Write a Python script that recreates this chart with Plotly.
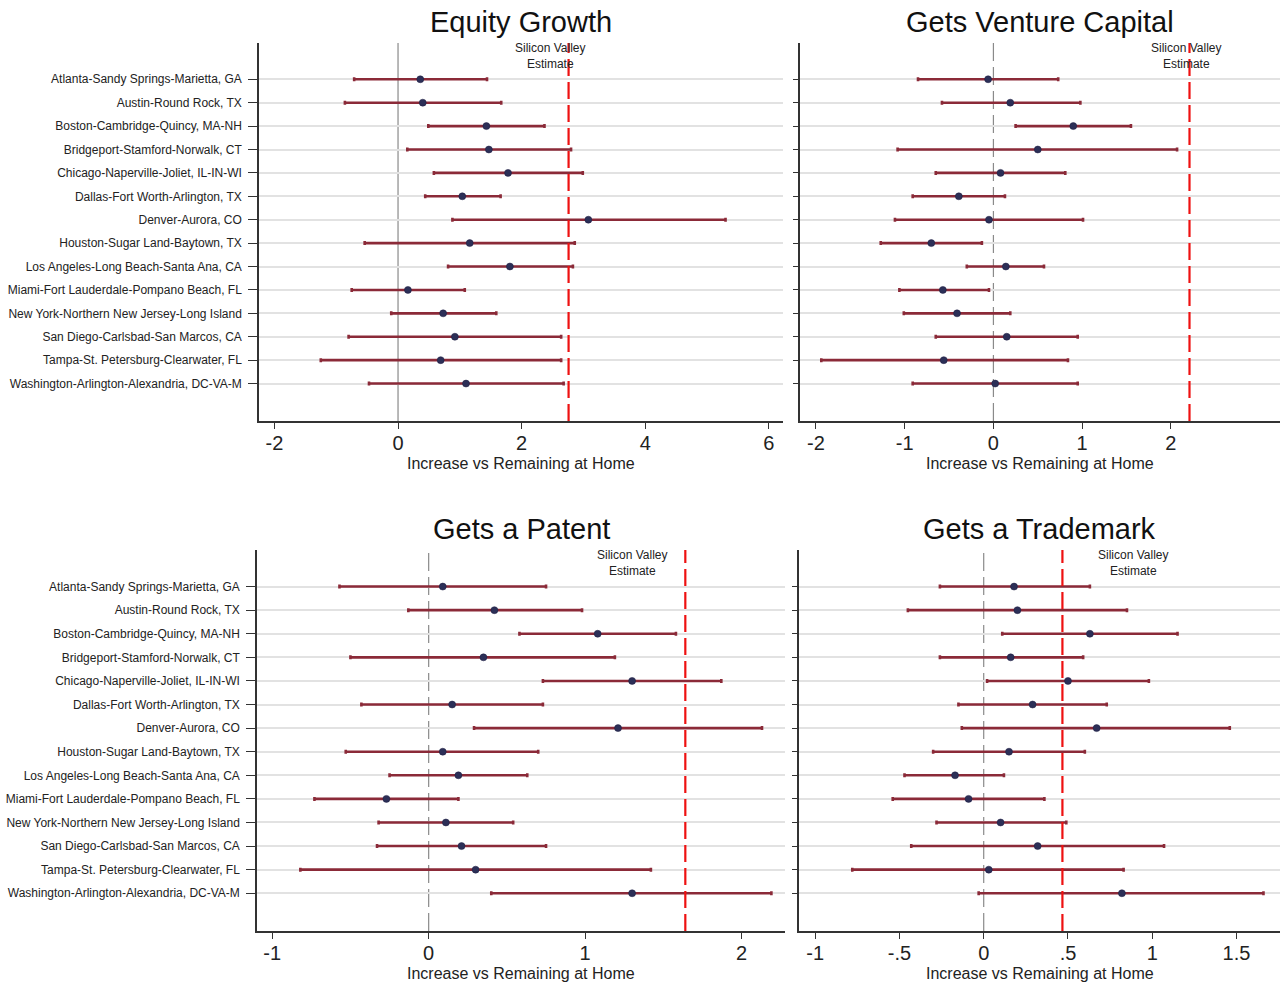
import plotly.graph_objects as go

cities = [
    "Atlanta-Sandy Springs-Marietta, GA",
    "Austin-Round Rock, TX",
    "Boston-Cambridge-Quincy, MA-NH",
    "Bridgeport-Stamford-Norwalk, CT",
    "Chicago-Naperville-Joliet, IL-IN-WI",
    "Dallas-Fort Worth-Arlington, TX",
    "Denver-Aurora, CO",
    "Houston-Sugar Land-Baytown, TX",
    "Los Angeles-Long Beach-Santa Ana, CA",
    "Miami-Fort Lauderdale-Pompano Beach, FL",
    "New York-Northern New Jersey-Long Island",
    "San Diego-Carlsbad-San Marcos, CA",
    "Tampa-St. Petersburg-Clearwater, FL",
    "Washington-Arlington-Alexandria, DC-VA-M",
]

titles = ["Equity Growth", "Gets Venture Capital", "Gets a Patent", "Gets a Trademark"]

# Equity Growth
eq_pt = [0.36, 0.40, 1.43, 1.47, 1.78, 1.04, 3.08, 1.16, 1.81, 0.16, 0.73, 0.92, 0.69, 1.10]
eq_lo = [-0.71, -0.86, 0.49, 0.15, 0.58, 0.44, 0.88, -0.54, 0.81, -0.75, -0.11, -0.80, -1.25, -0.47]
eq_hi = [1.44, 1.67, 2.37, 2.80, 2.99, 1.66, 5.30, 2.86, 2.83, 1.08, 1.59, 2.64, 2.64, 2.68]

# Gets Venture Capital
vc_pt = [-0.06, 0.19, 0.90, 0.50, 0.08, -0.39, -0.05, -0.70, 0.14, -0.57, -0.41, 0.15, -0.56, 0.02]
vc_lo = [-0.85, -0.58, 0.25, -1.08, -0.65, -0.91, -1.11, -1.27, -0.30, -1.06, -1.01, -0.65, -1.94, -0.91]
vc_hi = [0.73, 0.98, 1.55, 2.07, 0.81, 0.13, 1.01, -0.13, 0.57, -0.05, 0.19, 0.95, 0.84, 0.95]

# Gets a Patent
pa_pt = [0.09, 0.42, 1.08, 0.35, 1.30, 0.15, 1.21, 0.09, 0.19, -0.27, 0.11, 0.21, 0.30, 1.30]
pa_lo = [-0.57, -0.13, 0.58, -0.50, 0.73, -0.43, 0.29, -0.53, -0.25, -0.73, -0.32, -0.33, -0.82, 0.40]
pa_hi = [0.75, 0.98, 1.58, 1.19, 1.87, 0.73, 2.13, 0.70, 0.63, 0.19, 0.54, 0.75, 1.42, 2.19]

# Gets a Trademark
tm_pt = [0.18, 0.20, 0.63, 0.16, 0.50, 0.29, 0.67, 0.15, -0.17, -0.09, 0.10, 0.32, 0.03, 0.82]
tm_lo = [-0.26, -0.45, 0.11, -0.26, 0.02, -0.15, -0.13, -0.30, -0.47, -0.54, -0.28, -0.43, -0.78, -0.03]
tm_hi = [0.63, 0.85, 1.15, 0.59, 0.98, 0.73, 1.46, 0.60, 0.12, 0.36, 0.49, 1.07, 0.83, 1.66]

sv_estimates = [2.76, 2.21, 1.64, 0.467]

x_tickvals = [[-2, 0, 2, 4, 6], [-2, -1, 0, 1, 2], [-1, 0, 1, 2], [-1, -0.5, 0, 0.5, 1, 1.5]]
x_ticktext = [["-2", "0", "2", "4", "6"], ["-2", "-1", "0", "1", "2"], ["-1", "0", "1", "2"],
              ["-1", "-.5", "0", ".5", "1", "1.5"]]

series = [(eq_pt, eq_lo, eq_hi), (vc_pt, vc_lo, vc_hi), (pa_pt, pa_lo, pa_hi), (tm_pt, tm_lo, tm_hi)]

W, H = 1284, 985
# panel pixel boxes: left, right, top, bottom
boxes = [(259, 783, 43, 421), (800, 1280, 43, 421), (257, 785, 550, 931), (799, 1280, 550, 931)]
x_ranges = [[-2.25, 6.23], [-2.18, 3.23], [-1.097, 2.277], [-1.096, 1.758]]
sv_text_x = [2.46, 2.17, 1.30, 0.886]

BAR = "#8B2A38"
DOT = "#2c2f57"
FONT = "Arial, Liberation Sans, sans-serif"

fig = go.Figure()
for i, ((pt, lo, hi), (l, r, t, b)) in enumerate(zip(series, boxes)):
    n = i + 1
    xa = "x" if n == 1 else f"x{n}"
    ya = "y" if n == 1 else f"y{n}"
    fig.add_trace(go.Scatter(
        x=pt, y=cities, mode="markers", xaxis=xa, yaxis=ya, showlegend=False,
        marker=dict(size=7, color=DOT, line=dict(width=0.5, color="#1c1c40")),
        error_x=dict(type="data", symmetric=False,
                     array=[h - p for h, p in zip(hi, pt)],
                     arrayminus=[p - lo_ for p, lo_ in zip(pt, lo)],
                     color=BAR, thickness=2.6, width=2),
    ))
    xkey = "xaxis" if n == 1 else f"xaxis{n}"
    ykey = "yaxis" if n == 1 else f"yaxis{n}"
    fig.layout[xkey] = dict(
        domain=[l / W, r / W], range=x_ranges[i], anchor=ya,
        tickvals=x_tickvals[i], ticktext=x_ticktext[i],
        showgrid=False, zeroline=False, showline=True, linecolor="#333", linewidth=1.5,
        ticks="outside", ticklen=6, tickwidth=1.3, tickcolor="#333",
        ticklabelstandoff=-3,
        tickfont=dict(family=FONT, size=20, color="#222"),
    )
    fig.layout[ykey] = dict(
        domain=[1 - b / H, 1 - t / H], anchor=xa, type="category",
        categoryorder="array", categoryarray=cities,
        range=[13 + 1.6, -1.55],
        showgrid=True, gridcolor="#e2e2e2", gridwidth=2,
        zeroline=False, showline=True, linecolor="#333", linewidth=1.5,
        ticks="outside", ticklen=9 if n in (1, 3) else 5, tickwidth=1.3, tickcolor="#333",
        ticklabelstandoff=4,
        showticklabels=(n in (1, 3)),
        tickfont=dict(family=FONT, size=12, color="#222"),
    )
    # zero reference line
    fig.add_shape(type="line", xref=xa, yref=f"{ya} domain", x0=0, x1=0, y0=0, y1=1,
                  line=dict(color="#8a8a8a", width=1.2, dash="solid" if n == 1 else "18px,6px"),
                  layer="below")
    # Silicon Valley estimate
    fig.add_shape(type="line", xref=xa, yref=f"{ya} domain", x0=sv_estimates[i], x1=sv_estimates[i],
                  y0=0, y1=1, line=dict(color="#ee1111", width=2.2, dash="17px,6px"))
    fig.add_annotation(x=sv_text_x[i], xref=xa, y=1 - (t + 13) / H, yref="paper",
                       yanchor="middle", xanchor="center",
                       text="Silicon Valley<br>Estimate", showarrow=False,
                       font=dict(family=FONT, size=12, color="#222"), align="center")
    # panel title
    fig.add_annotation(x=((l + r) / 2) / W, y=1 - (t - 21) / H, xref="paper", yref="paper",
                       yanchor="middle", xanchor="center",
                       text=titles[i], showarrow=False,
                       font=dict(family=FONT, size=29, color="#111"))
    # x axis title
    fig.add_annotation(x=((l + r) / 2) / W, y=1 - (b + 42) / H, xref="paper", yref="paper",
                       yanchor="middle", xanchor="center",
                       text="Increase vs Remaining at Home", showarrow=False,
                       font=dict(family=FONT, size=16, color="#222"))

fig.update_layout(width=W, height=H, margin=dict(l=0, r=0, t=0, b=0),
                  paper_bgcolor="white", plot_bgcolor="white", showlegend=False)
fig.write_html("out.html", config={"displayModeBar": False},
               post_script="document.body.style.margin='0';")
